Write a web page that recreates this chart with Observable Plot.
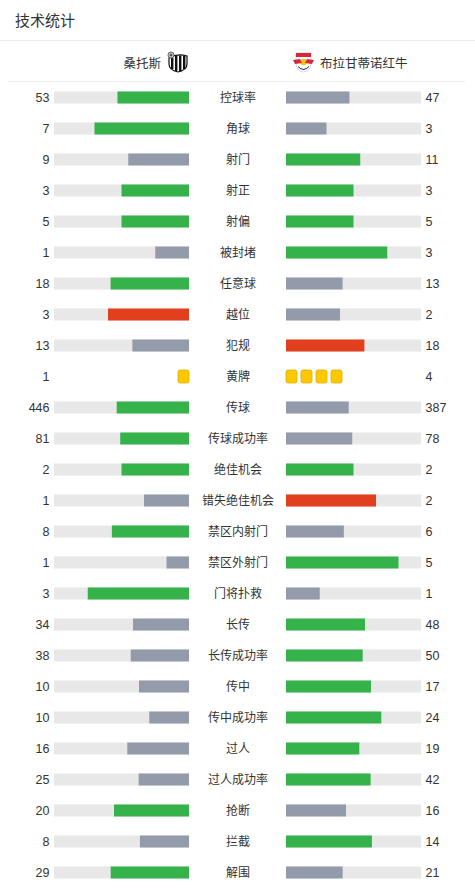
<!DOCTYPE html>
<html>
<head>
<meta charset="utf-8">
<script src="https://cdn.jsdelivr.net/npm/d3@7"></script>
<script src="https://cdn.jsdelivr.net/npm/@observablehq/plot@0.6"></script>
<style>
  html, body { margin: 0; padding: 0; background: #fff; }
  body { width: 475px; font-family: "Liberation Sans", "Noto Sans CJK SC", sans-serif; color: #333; }
  .title { height: 40px; border-bottom: 1px solid #ececec; font-size: 15px; line-height: 40px; padding-left: 15px; color: #333; font-family: "Noto Sans CJK SC", sans-serif; }
  .teams { position: relative; height: 40px; margin: 0 10px 0 8px; border-bottom: 1px solid #ececec; font-size: 12.5px; font-family: "Noto Sans CJK SC", sans-serif; color: #333; }
  .home { position: absolute; right: 276px; top: 10px; display: flex; align-items: center; gap: 5px; }
  .away { position: absolute; left: 284px; top: 10px; display: flex; align-items: center; gap: 5px; }
  svg { display: block; }
</style>
</head>
<body>
<div class="title">技术统计</div>
<div class="teams">
  <div class="home"><span>桑托斯</span>
    <svg width="23" height="22" viewBox="0 0 23 22">
      <path d="M3 7 Q11 2 21 5 L21 13 Q21 19 12 21 Q3 19 3 13 Z" fill="#fff" stroke="#111" stroke-width="1.2"/>
      <rect x="5" y="7" width="2.4" height="11" fill="#111"/>
      <rect x="9" y="5" width="2.4" height="15" fill="#111"/>
      <rect x="13" y="4.5" width="2.4" height="16" fill="#111"/>
      <rect x="17" y="5" width="2.4" height="13" fill="#111"/>
      <circle cx="5" cy="4" r="3" fill="#fff" stroke="#333" stroke-width="0.8"/>
      <rect x="3.5" y="2.5" width="3" height="3" fill="#555"/>
    </svg>
  </div>
  <div class="away">
    <svg width="23" height="22" viewBox="0 0 23 22">
      <path d="M4 2 L19 2 L19 12 Q19 20 11.5 21 Q4 20 4 12 Z" fill="#fff" stroke="#c9c9d6" stroke-width="0.8"/>
      <rect x="4" y="2" width="15" height="4" fill="#d7263d"/>
      <circle cx="11.5" cy="11" r="3.2" fill="#f5c400"/>
      <path d="M1 9 L8 8 L10 12 L3 13 Z" fill="#d7263d"/>
      <path d="M22 9 L15 8 L13 12 L20 13 Z" fill="#d7263d"/>
      <path d="M6 15 Q11.5 21 17 15 L17 16 Q11.5 22 6 16 Z" fill="#1d2a6b"/>
    </svg>
    <span>布拉甘蒂诺红牛</span>
  </div>
</div>
<div id="chart"></div>
<script>
// ---- data ----
const categories = ["控球率","角球","射门","射正","射偏","被封堵","任意球","越位","犯规","黄牌","传球","传球成功率","绝佳机会","错失绝佳机会","禁区内射门","禁区外射门","门将扑救","长传","长传成功率","传中","传中成功率","过人","过人成功率","抢断","拦截","解围"];
const homeValues = [53,7,9,3,5,1,18,3,13,1,446,81,2,1,8,1,3,34,38,10,10,16,25,20,8,29];
const awayValues = [47,3,11,3,5,3,13,2,18,4,387,78,2,2,6,5,1,48,50,17,24,19,42,16,14,21];
const negativeStats = ["越位","犯规","错失绝佳机会"];
const cardStats = ["黄牌"];

// ---- layout (px) ----
const W = 475, STEP = 31, TRACK = 135, CENTER = 237.5, GAP = 48.5;
const unit = px => (px - CENTER) / TRACK;   // px -> track units
const g = GAP / TRACK;

const GREEN = "#35b24a", GREY = "#939bab", RED = "#e23f1f", TRACKC = "#e8e8e8", YELLOW = "#fcc900";

const rows = categories.map((c, i) => {
  const h = homeValues[i], a = awayValues[i], s = h + a;
  const bad = negativeStats.includes(c);
  const colorFor = (v, o) => v > o ? (bad ? RED : GREEN) : v < o ? GREY : (bad ? RED : GREEN);
  return {cat: c, h, a, hf: s ? h / s : 0, af: s ? a / s : 0, hc: colorFor(h, a), ac: colorFor(a, h), card: cardStats.includes(c)};
});
const barRows = rows.filter(d => !d.card);

const cardW = 11 / TRACK, cardPitch = 15 / TRACK;
const cards = [];
rows.filter(d => d.card).forEach(d => {
  for (let k = 0; k < d.h; k++) cards.push({cat: d.cat, x1: -g - k * cardPitch - cardW, x2: -g - k * cardPitch});
  for (let k = 0; k < d.a; k++) cards.push({cat: d.cat, x1: g + k * cardPitch, x2: g + k * cardPitch + cardW});
});

const inset = (STEP - 12) / 2;
const chart = Plot.plot({
  width: W,
  height: STEP * categories.length,
  margin: 0,
  x: {domain: [unit(0), unit(W)], axis: null},
  y: {domain: categories, axis: null, padding: 0},
  style: {fontFamily: "'Liberation Sans', 'Noto Sans CJK SC', sans-serif", fontSize: "12px", color: "#333", background: "#fff"},
  marks: [
    // tracks
    Plot.barX(barRows, {y: "cat", x1: -g - 1, x2: -g, fill: TRACKC, insetTop: inset, insetBottom: inset}),
    Plot.barX(barRows, {y: "cat", x1: g, x2: g + 1, fill: TRACKC, insetTop: inset, insetBottom: inset}),
    // values
    Plot.barX(barRows, {y: "cat", x1: d => -g - d.hf, x2: -g, fill: "hc", insetTop: inset, insetBottom: inset}),
    Plot.barX(barRows, {y: "cat", x1: g, x2: d => g + d.af, fill: "ac", insetTop: inset, insetBottom: inset}),
    // yellow cards
    Plot.barX(cards, {y: "cat", x1: "x1", x2: "x2", fill: YELLOW, stroke: "#e2ad00", strokeWidth: 0.8, rx: 2, insetTop: inset - 0.5, insetBottom: inset - 0.5}),
    // labels
    Plot.text(rows, {y: "cat", x: 0, text: "cat", textAnchor: "middle", fill: "#333", fontFamily: "'Noto Sans CJK SC', sans-serif", fontSize: 12}),
    Plot.text(rows, {y: "cat", x: unit(49), text: d => String(d.h), textAnchor: "end", fill: "#333", fontSize: 12.5}),
    Plot.text(rows, {y: "cat", x: unit(425), text: d => String(d.a), textAnchor: "start", fill: "#333", fontSize: 12.5})
  ]
});
document.getElementById("chart").appendChild(chart);
</script>
</body>
</html>
